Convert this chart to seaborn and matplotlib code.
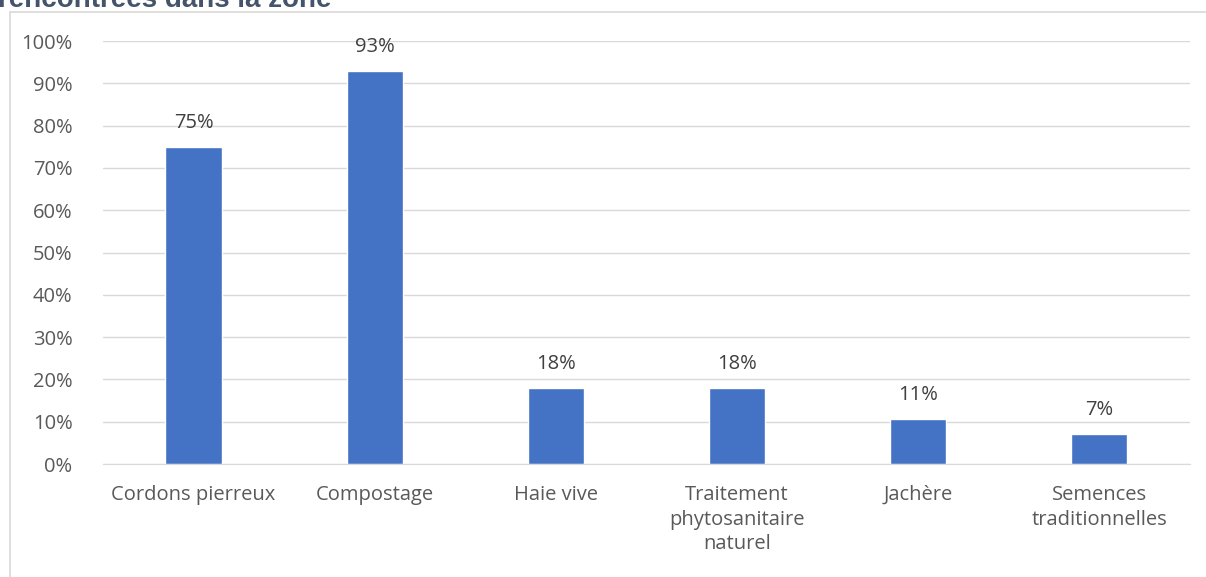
import pandas as pd
import seaborn as sns
import matplotlib.pyplot as plt
from matplotlib.patches import Rectangle
from matplotlib.ticker import MultipleLocator, PercentFormatter

categories = ["Cordons pierreux", "Compostage", "Haie vive",
              "Traitement\nphytosanitaire\nnaturel", "Jachère",
              "Semences\ntraditionnelles"]
values = [75, 93, 18, 18, 10.7, 7.1]
title = "rencontrées dans la zone"

data = pd.DataFrame({"pratique": categories, "pourcentage": values})

sns.set_style("white")
plt.rcParams['font.family'] = ['Open Sans', 'DejaVu Sans']

fig = plt.figure(figsize=(12.06, 5.77), dpi=100)
ax = fig.add_axes([0.0854, 0.1958, 0.9013, 0.7331])

sns.barplot(data=data, x="pratique", y="pourcentage", color="#4472C4",
            saturation=1, width=0.31, ax=ax)

ax.set_ylim(0, 100)
ax.set_xlim(-0.5, len(categories) - 0.5)
ax.yaxis.set_major_locator(MultipleLocator(10))
ax.yaxis.set_major_formatter(PercentFormatter(decimals=0))
ax.grid(axis="y", color="#D9D9D9", linewidth=1)
ax.set_axisbelow(True)
for s in ["top", "right", "left"]:
    ax.spines[s].set_visible(False)
ax.spines["bottom"].set_color("#D9D9D9")
ax.set_xlabel("")
ax.set_ylabel("")
ax.tick_params(axis="both", length=0, labelsize=14.5, labelcolor="#595959")
ax.tick_params(axis="x", pad=15)
ax.tick_params(axis="y", pad=22)
for lbl in ax.get_xticklabels():
    lbl.set_linespacing(1.32)

ax.bar_label(ax.containers[0], labels=[f"{v:.0f}%" for v in values],
             padding=10, fontsize=14.5, color="#404040")

# cadre du graphique
fig.patches.append(Rectangle((10 / 1206, -0.1), 1.2, 1 - 12 / 577 + 0.1,
                             transform=fig.transFigure, fill=False,
                             edgecolor="#D9D9D9", linewidth=1.2))
fig.text(-0.002, 1 - 7 / 577, title, fontsize=20, fontweight="bold",
         color="#44546A", va="baseline", ha="left",
         family=["Liberation Sans", "DejaVu Sans"])

plt.savefig("out.png", dpi=100)
